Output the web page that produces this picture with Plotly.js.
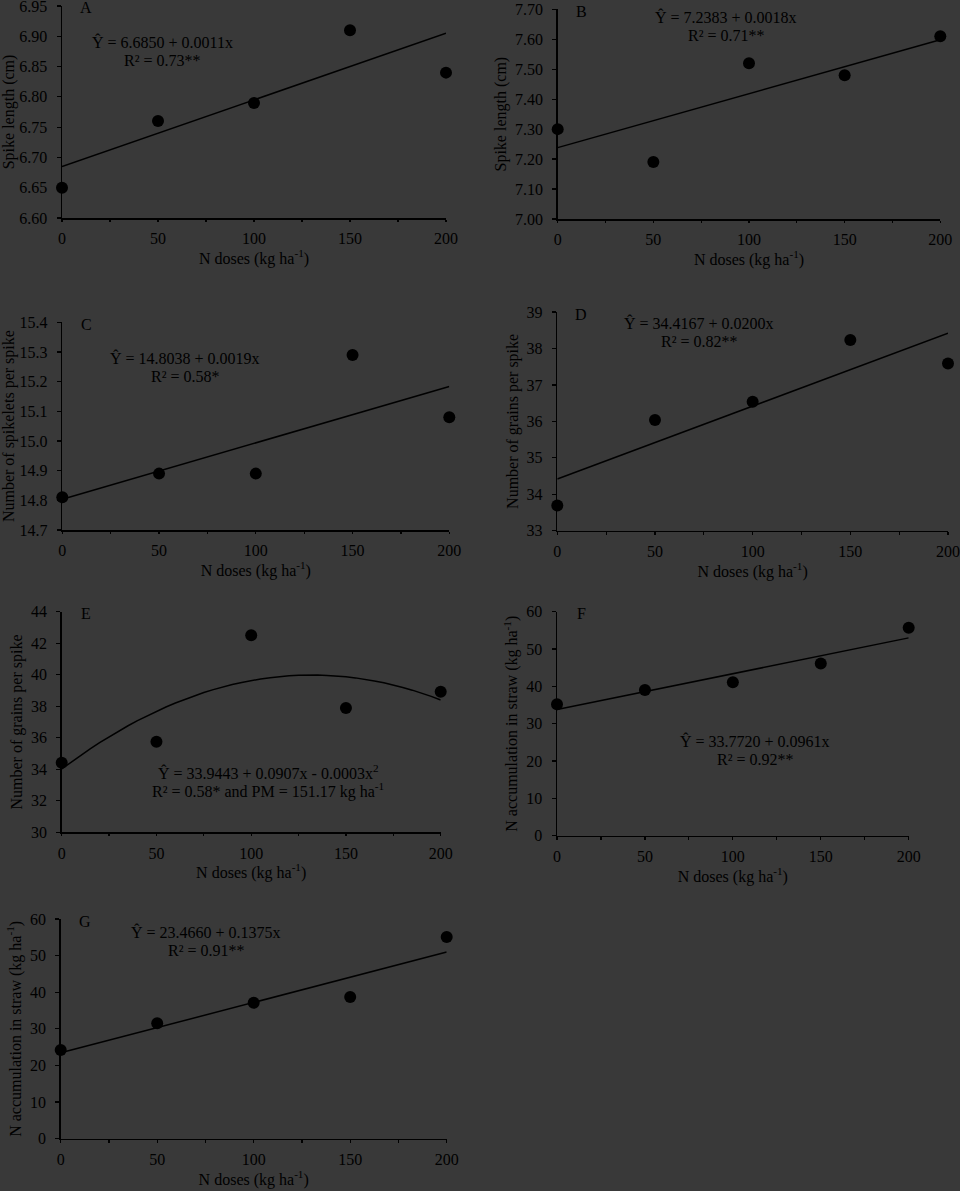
<!DOCTYPE html>
<html>
<head>
<meta charset="utf-8">
<script src="https://cdn.plot.ly/plotly-3.0.1.min.js"></script>
<style>
  html, body { margin: 0; padding: 0; background: #393939; }
  #chart { width: 960px; height: 1191px; }
</style>
</head>
<body>
<div id="chart"></div>
<script>
// ---------- data ----------
const doses = [0, 50, 100, 150, 200];

const spikeLengthA = [6.65, 6.76, 6.79, 6.91, 6.84];
const spikeLengthB = [7.30, 7.19, 7.52, 7.48, 7.61];
const spikeletsC   = [14.81, 14.89, 14.89, 15.29, 15.08];
const grainsD      = [33.69, 36.04, 36.54, 38.23, 37.59];
const grainsE      = [34.42, 35.75, 42.50, 37.89, 38.92];
const nStrawF      = [35.2, 39.0, 41.1, 46.1, 55.7];
const nStrawG      = [24.2, 31.5, 37.1, 38.7, 55.1];

// regression coefficients (intercept, linear, quadratic)
const fitA = [6.6850, 0.0011];
const fitB = [7.2383, 0.0018];
const fitC = [14.8038, 0.0019];
const fitD = [34.4167, 0.0200];
const fitE = [34.02, 0.0903, -0.000342];   // curve as drawn in the figure
const fitF = [33.7720, 0.0961];
const fitG = [23.4660, 0.1375];

const panelLetters = ['A', 'B', 'C', 'D', 'E', 'F', 'G'];
const yTitles = [
  'Spike length (cm)',
  'Spike length (cm)',
  'Number of spikelets per spike',
  'Number of grains per spike',
  'Number of grains per spike',
  'N accumulation in straw (kg ha<sup>-1</sup>)',
  'N accumulation in straw (kg ha<sup>-1</sup>)'
];
const xTitle = 'N doses (kg ha<sup>-1</sup>)';
const eqLines = [
  ['Ŷ = 6.6850 + 0.0011x', 'R² = 0.73**'],
  ['Ŷ = 7.2383 + 0.0018x', 'R² = 0.71**'],
  ['Ŷ = 14.8038 + 0.0019x', 'R² = 0.58*'],
  ['Ŷ = 34.4167 + 0.0200x', 'R² = 0.82**'],
  ['Ŷ = 33.9443 + 0.0907x - 0.0003x<sup>2</sup>', 'R² = 0.58* and PM = 151.17 kg ha<sup>-1</sup>'],
  ['Ŷ = 33.7720 + 0.0961x', 'R² = 0.92**'],
  ['Ŷ = 23.4660 + 0.1375x', 'R² = 0.91**']
];
const yRanges = [[6.60, 6.95], [7.00, 7.70], [14.7, 15.4], [33, 39], [30, 44], [0, 60], [0, 60]];
const yDticks = [0.05, 0.1, 0.1, 1, 2, 10, 10];
const yFormats = ['.2f', '.2f', '.1f', 'd', 'd', 'd', 'd'];

// ---------- layout geometry (pixels) ----------
const W = 960, H = 1191;
const boxes = [ // [x0, x1, yTop, yBottom]
  [62, 446, 6, 218],
  [557.7, 940.3, 9.3, 219],
  [62.3, 449.3, 322.3, 530],
  [557.3, 948, 312, 530.7],
  [61.7, 440.7, 611.7, 832.3],
  [557, 908.7, 611.7, 835.7],
  [60.7, 446.7, 919, 1138.7]
];
const eqPos = [ // centre of first line [x, y] px
  [162, 41.7], [726, 16.7], [185, 358.3], [699, 323.3], [268, 771.7], [755, 740.7], [206, 931.7]
];
const lineGap = 18.4;

const seriesY = [spikeLengthA, spikeLengthB, spikeletsC, grainsD, grainsE, nStrawF, nStrawG];
const fits = [fitA, fitB, fitC, fitD, fitE, fitF, fitG];

const FONT = 'Liberation Serif, Times New Roman, serif';
const traces = [];
const layout = {
  width: W, height: H,
  margin: {l: 0, r: 0, t: 0, b: 0},
  paper_bgcolor: '#393939',
  plot_bgcolor: '#393939',
  showlegend: false,
  font: {family: FONT, size: 16, color: '#000'},
  annotations: []
};

function fitValue(c, x) {
  let v = 0;
  for (let i = 0; i < c.length; i++) v += c[i] * Math.pow(x, i);
  return v;
}

for (let i = 0; i < 7; i++) {
  const n = i === 0 ? '' : String(i + 1);
  const xa = 'x' + n, ya = 'y' + n;
  const [x0, x1, yt, yb] = boxes[i];

  // fitted curve
  const c = fits[i];
  const fx = [];
  if (c.length === 2) { fx.push(doses[0], doses[doses.length - 1]); }
  else { for (let x = doses[0]; x <= doses[doses.length - 1]; x += 5) fx.push(x); }
  traces.push({
    x: fx, y: fx.map(x => fitValue(c, x)),
    xaxis: xa, yaxis: ya, type: 'scatter', mode: 'lines',
    line: {color: '#000', width: 1.5}, hoverinfo: 'skip'
  });
  // observed means
  traces.push({
    x: doses, y: seriesY[i],
    xaxis: xa, yaxis: ya, type: 'scatter', mode: 'markers',
    marker: {color: '#000', size: 12}, cliponaxis: false
  });

  // tiny epsilon so the top tick survives floating-point rounding
  const yr = [yRanges[i][0], yRanges[i][1] + 1e-9];

  layout['xaxis' + n] = {
    domain: [x0 / W, x1 / W], anchor: ya,
    range: [0, 200], tick0: 0, dtick: 50,
    ticks: 'outside', ticklen: 2.5, tickwidth: 1.2, tickcolor: '#000',
    ticklabelstandoff: 3, ticklabeloverflow: 'allow',
    minor: {dtick: 25, ticks: 'outside', ticklen: 2.5, tickwidth: 1.2, tickcolor: '#000'},
    showline: true, linecolor: '#000', linewidth: 1.5,
    showgrid: false, zeroline: false,
    tickfont: {family: FONT, size: 16, color: '#000'},
    title: {text: xTitle, font: {family: FONT, size: 16, color: '#000'}, standoff: 4}
  };
  layout['yaxis' + n] = {
    domain: [1 - yb / H, 1 - yt / H], anchor: xa,
    range: yr, tick0: yRanges[i][0], dtick: yDticks[i], tickformat: yFormats[i],
    ticks: 'outside', ticklen: 4, tickwidth: 1.2, tickcolor: '#000',
    ticklabelstandoff: 6, ticklabeloverflow: 'allow',
    showline: true, linecolor: '#000', linewidth: 1.5,
    showgrid: false, zeroline: false,
    tickfont: {family: FONT, size: 16, color: '#000'},
    title: {text: yTitles[i], font: {family: FONT, size: 16, color: '#000'}, standoff: 4}
  };

  // panel letter
  layout.annotations.push({
    xref: 'paper', yref: 'paper', x: (x0 + 24) / W, y: 1 - (yt + 2) / H,
    xanchor: 'center', yanchor: 'middle', showarrow: false,
    text: panelLetters[i], font: {family: FONT, size: 16, color: '#000'}
  });
  // equation lines
  const [ex, ey] = eqPos[i];
  eqLines[i].forEach((t, k) => {
    layout.annotations.push({
      xref: 'paper', yref: 'paper', x: ex / W, y: 1 - (ey + k * lineGap) / H,
      xanchor: 'center', yanchor: 'middle', showarrow: false,
      text: t, font: {family: FONT, size: 16, color: '#000'}
    });
  });
}

Plotly.newPlot('chart', traces, layout, {staticPlot: true, displayModeBar: false});
</script>
</body>
</html>
